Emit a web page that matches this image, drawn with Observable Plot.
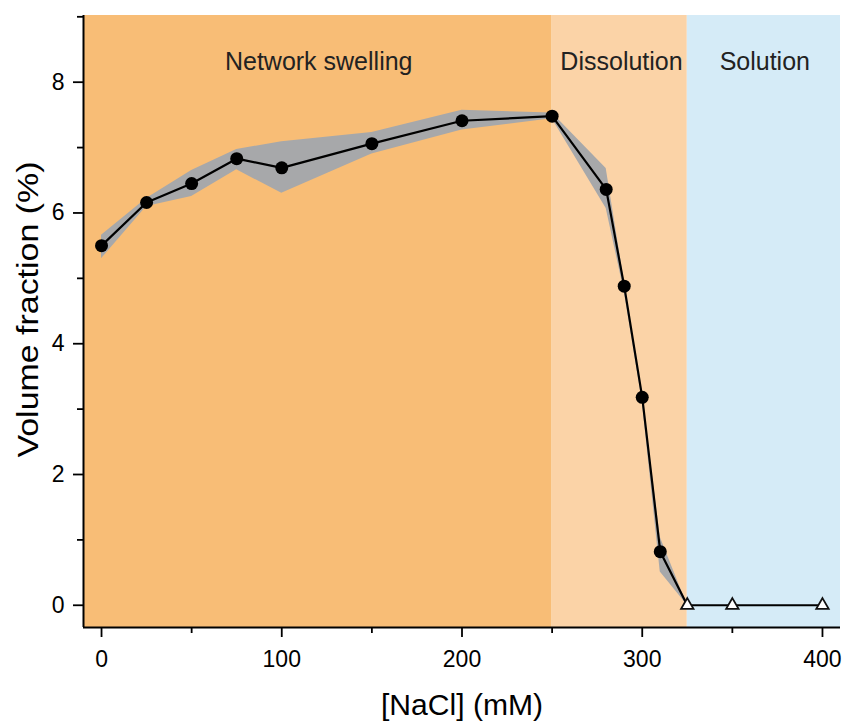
<!DOCTYPE html>
<html>
<head>
<meta charset="utf-8">
<script src="https://cdn.jsdelivr.net/npm/d3@7"></script>
<script src="https://cdn.jsdelivr.net/npm/@observablehq/plot@0.6"></script>
<style>
  html, body { margin: 0; padding: 0; background: #fff; }
  #chart { width: 845px; height: 722px; }
</style>
</head>
<body>
<div id="chart"></div>
<script>
// ---- data ----
const conc      = [0, 25, 50, 75, 100, 150, 200, 250, 280, 290, 300, 310, 325];
const volFrac   = [5.50, 6.16, 6.45, 6.83, 6.69, 7.06, 7.41, 7.48, 6.36, 4.88, 3.18, 0.82, 0];
const upperBand = [5.66, 6.22, 6.65, 6.97, 7.09, 7.23, 7.57, 7.53, 6.68, 4.96, 3.24, 1.04, 0];
const lowerBand = [5.30, 6.10, 6.25, 6.66, 6.30, 6.90, 7.27, 7.44, 6.07, 4.80, 3.12, 0.51, 0];
const solConc   = [325, 350, 400];
const solFrac   = [0, 0, 0];

const regionNames  = ["Network swelling", "Dissolution", "Solution"];
const regionStart  = [-10, 250, 325];
const regionEnd    = [250, 325, 410];
const regionColors = ["#F8BD76", "#FBD3A7", "#D5EBF7"];
const regionLabelX = [120.5, 288.5, 368];
const regionLabelY = 8.31;

const xMajor = [0, 100, 200, 300, 400];
const xMinor = [50, 150, 250, 350];
const yMajor = [0, 2, 4, 6, 8];
const yMinor = [1, 3, 5, 7, 9];
const xDomain = [-10, 410];
const yDomain = [-0.34, 9.02];
const xTitle = "[NaCl] (mM)";
const yTitle = "Volume fraction (%)";

// ---- tables ----
const regions = regionNames.map((n, i) => ({name: n, x1: regionStart[i], x2: regionEnd[i], color: regionColors[i], lx: regionLabelX[i]}));
const band = conc.map((c, i) => ({c, lo: lowerBand[i], hi: upperBand[i]}));
const dissolved = conc.slice(0, conc.length - 1).map((c, i) => ({c, v: volFrac[i]}));
const solution = solConc.map((c, i) => ({c, v: solFrac[i]}));
const lineData = conc.map((c, i) => ({c, v: volFrac[i]})).concat(solution.slice(1));

const FONT = "Liberation Sans, Arial, Helvetica, sans-serif";

const chart = Plot.plot({
  width: 845,
  height: 722,
  marginLeft: 83,
  marginRight: 5,
  marginTop: 15,
  marginBottom: 95,
  style: {fontFamily: FONT, background: "white", overflow: "visible"},
  x: {domain: xDomain},
  y: {domain: yDomain},
  marks: [
    Plot.rect(regions, {x1: "x1", x2: "x2", fill: d => d.color}),
    Plot.areaY(band, {x: "c", y1: "lo", y2: "hi", fill: "#A7A8AA"}),
    Plot.line(lineData, {x: "c", y: "v", stroke: "black", strokeWidth: 2.2}),
    Plot.dot(dissolved, {x: "c", y: "v", r: 6.5, fill: "black", stroke: "none"}),
    Plot.dot(solution, {x: "c", y: "v", symbol: "triangle", r: 4.6, fill: "white", stroke: "#111", strokeWidth: 1.8}),
    Plot.text(regions, {x: "lx", y: () => regionLabelY, text: "name", fontSize: 25, fill: "#222", lineAnchor: "middle"}),
    Plot.axisX({ticks: xMajor, tickSize: 10, tickPadding: 13, fontSize: 23, label: null, strokeWidth: 1.8, color: "black"}),
    Plot.axisX({ticks: xMinor, tickSize: 6, tickFormat: () => "", label: null, strokeWidth: 1.8}),
    Plot.axisY({ticks: yMajor, tickSize: 10, tickPadding: 9, fontSize: 23, label: null, strokeWidth: 1.8, color: "black"}),
    Plot.axisY({ticks: yMinor, tickSize: 6, tickFormat: () => "", label: null, strokeWidth: 1.8}),
    Plot.ruleX([xDomain[0]], {stroke: "black", strokeWidth: 2}),
    Plot.ruleY([yDomain[0]], {stroke: "black", strokeWidth: 2}),
    Plot.text([xTitle], {frameAnchor: "bottom", dy: 78, textAnchor: "middle", lineAnchor: "middle", fontSize: 29, fill: "black"}),
    Plot.text([yTitle], {frameAnchor: "left", dx: -55, dy: -12, rotate: -90, textAnchor: "middle", lineAnchor: "middle", fontSize: 29, fill: "black"})
  ]
});
// match the stretched lettering of the reference axis titles
d3.select(chart).selectAll("text").filter(function () { return this.textContent === yTitle; })
  .attr("textLength", 296).attr("lengthAdjust", "spacingAndGlyphs");
d3.select(chart).selectAll("text").filter(function () { return this.textContent === xTitle; })
  .attr("textLength", 162).attr("lengthAdjust", "spacingAndGlyphs");
document.getElementById("chart").appendChild(chart);
</script>
</body>
</html>
